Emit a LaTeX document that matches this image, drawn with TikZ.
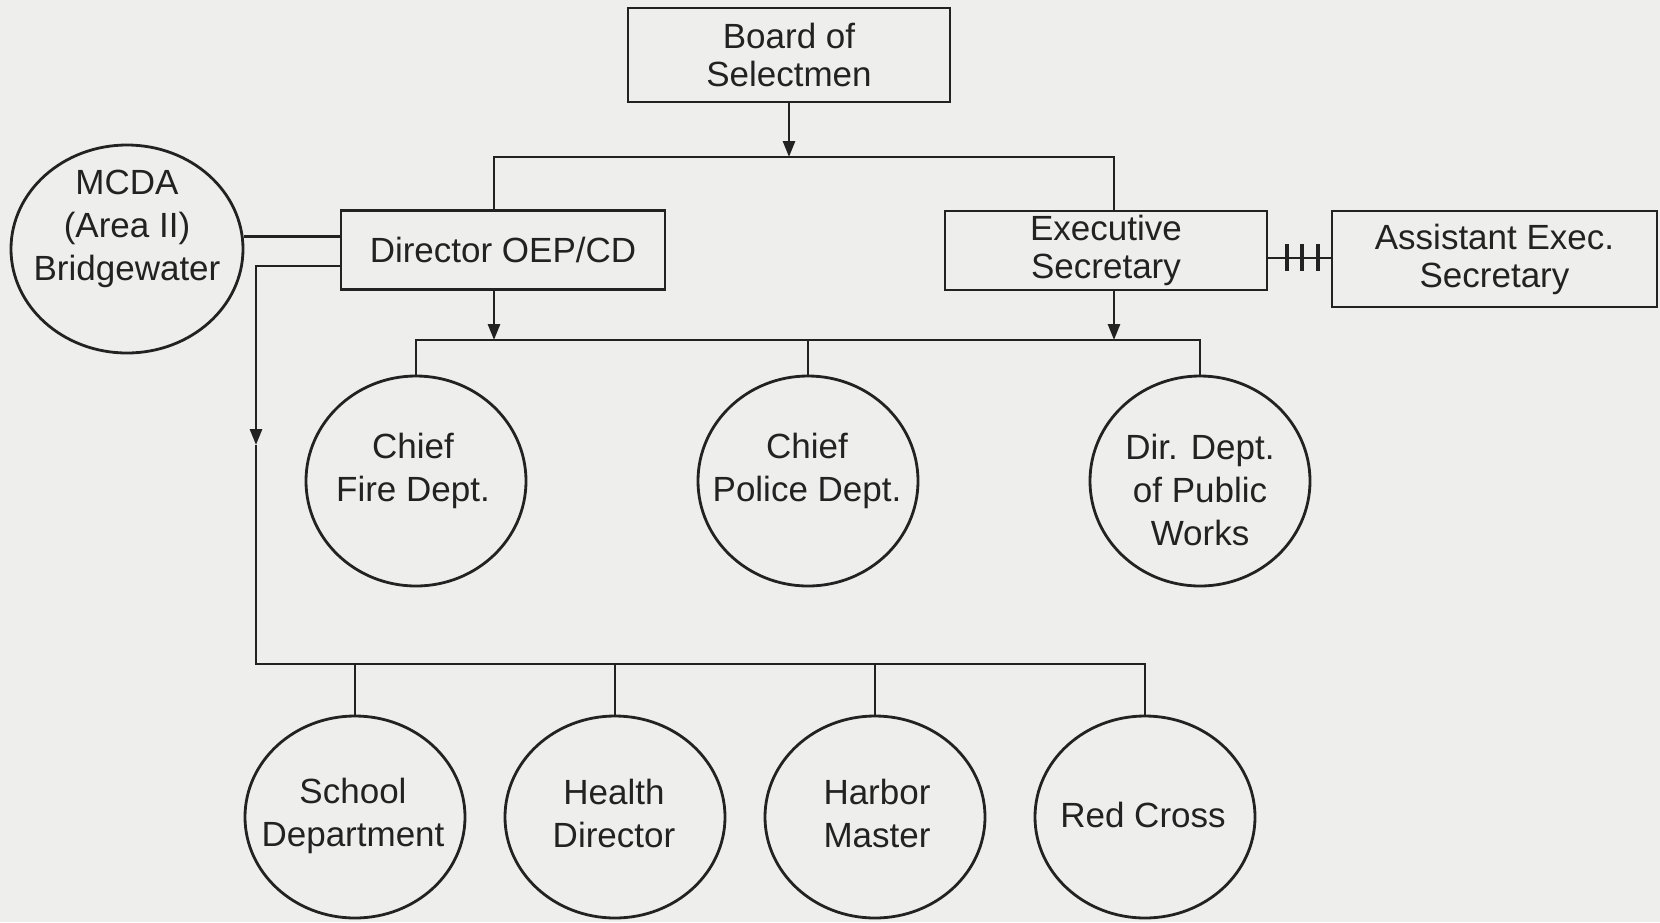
\documentclass[tikz,border=0pt]{standalone}
\usepackage{fontspec}
\setmainfont{Liberation Sans}
\usetikzlibrary{shapes.geometric,arrows.meta}
\definecolor{bg}{RGB}{238,238,236}
\definecolor{ink}{RGB}{34,34,34}
\begin{document}
\begin{tikzpicture}[x=1pt,y=-1pt,line width=2.8pt,draw=ink,text=ink,
  box/.style={draw=ink,rectangle,inner sep=0pt,align=center,font=\fontsize{35}{38}\selectfont},
  oval/.style={draw=ink,ellipse,inner sep=0pt},
  lbl/.style={align=center,inner sep=0pt,font=\fontsize{35}{43}\selectfont},
  tip/.style={-{Triangle[length=16pt,width=12pt]}}]
\path[fill=bg] (0,0) rectangle (1660,922);
% boxes
\node[box,minimum width=322pt,minimum height=94pt] (board) at (789,55) {Board of\\Selectmen};
\node[box,minimum width=324pt,minimum height=79pt] (dir) at (503,250) {Director OEP/CD};
\node[box,minimum width=322pt,minimum height=79pt] (ex) at (1106,250.5) {Executive\\Secretary};
\node[box,minimum width=325pt,minimum height=96pt] (as) at (1494.5,259) {Assistant Exec.\\Secretary};
% ovals
\node[oval,minimum width=232pt,minimum height=208pt] (mcda) at (127,249) {};
\node[lbl] (mcdat) at (127,229) {MCDA\\(Area II)\\Bridgewater};
\node[oval,minimum width=220pt,minimum height=210pt] (fire) at (416,481) {};
\node[lbl] (firet) at (413,471) {Chief\\Fire Dept.};
\node[oval,minimum width=220pt,minimum height=210pt] (police) at (808,481) {};
\node[lbl] (policet) at (807,471) {Chief\\Police Dept.};
\node[oval,minimum width=220pt,minimum height=210pt] (dpw) at (1200,481) {};
\node[lbl] (dpwt) at (1200,490) {Dir. Dept.\\of Public\\Works};
\node[oval,minimum width=220pt,minimum height=202pt] (school) at (355,817) {};
\node[lbl] (schoolt) at (353,816) {School\\Department};
\node[oval,minimum width=220pt,minimum height=202pt] (health) at (615,817) {};
\node[lbl] (healtht) at (614,813) {Health\\Director};
\node[oval,minimum width=220pt,minimum height=202pt] (harbor) at (875,817) {};
\node[lbl] (harbort) at (877,813) {Harbor\\Master};
\node[oval,minimum width=220pt,minimum height=202pt] (red) at (1145,817) {};
\node[lbl] (redt) at (1143,815) {Red Cross};
% coordinates
\coordinate (tl) at (494,157);
\coordinate (tr) at (1114,157);
\coordinate (ml) at (416,340);
\coordinate (ll) at (256,266);
\coordinate (la) at (256,445);
\coordinate (bl) at (256,664);
\coordinate (tk) at (1300,258);
% top level
\draw[tip] (board.south) -- (board.south |- tl);
\draw (dir.north -| tl) -- (tl) -- (tr) -- (ex.north -| tr);
% middle bus
\draw[tip] (dir.south -| tl) -- (tl |- ml);
\draw[tip] (ex.south -| tr) -- (tr |- ml);
\draw (fire.north) -- (fire.north |- ml) -- (dpw.north |- ml) -- (dpw.north);
\draw (police.north) -- (police.north |- ml);
% MCDA link
\draw (mcda.6) -- (mcda.6 -| dir.west);
% left branch
\draw[tip] (dir.west |- ll) -- (ll) -- (la);
\draw (la) -- (bl) -- (red.north |- bl) -- (red.north);
\draw (school.north) -- (school.north |- bl);
\draw (health.north) -- (health.north |- bl);
\draw (harbor.north) -- (harbor.north |- bl);
% exec - assistant
\draw (ex.east |- tk) -- (as.west |- tk);
\foreach \x in {1287,1302,1318} \draw[line width=3.2pt] (\x,244) -- (\x,271);
\end{tikzpicture}
\end{document}
